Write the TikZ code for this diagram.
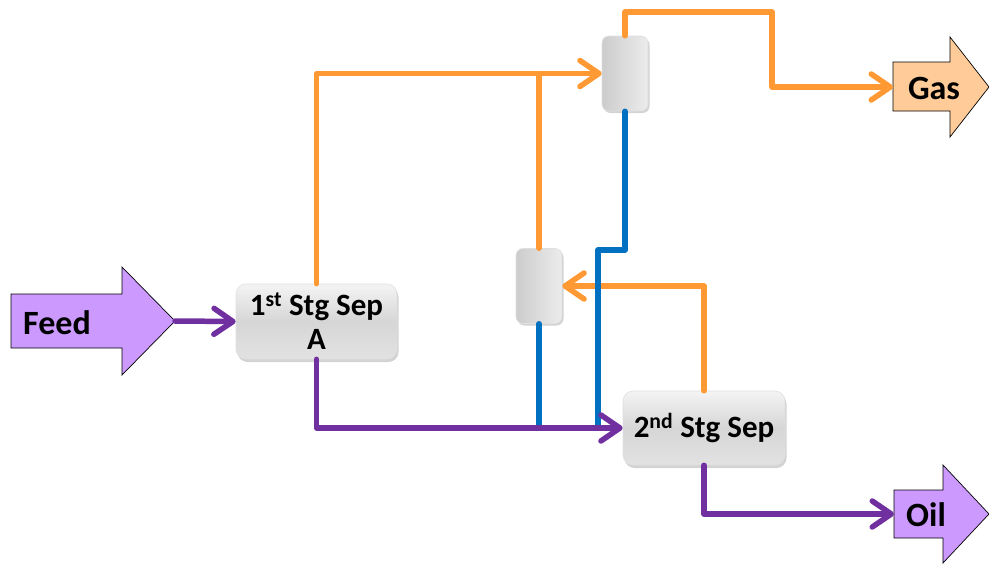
\documentclass[tikz,border=0pt]{standalone}
\usepackage{fontspec}
\setmainfont{Carlito}
\usetikzlibrary{arrows.meta,shadows}
\definecolor{orn}{HTML}{FF9933}
\definecolor{blu}{HTML}{0070C0}
\definecolor{pur}{HTML}{7030A0}
\definecolor{lil}{HTML}{CC99FF}
\definecolor{peach}{HTML}{FFCC99}
\definecolor{boxtop}{HTML}{F4F4F4}
\definecolor{boxmid}{HTML}{D6D6D6}
\definecolor{boxbot}{HTML}{E2E2E2}
\tikzset{
  flowline/.style={line width=5.5pt, line join=round, line cap=round},
  oline/.style={flowline, draw=orn},
  bline/.style={flowline, draw=blu},
  pline/.style={flowline, draw=pur},
  arrowend/.style={-{Straight Barb[length=19pt,width=26pt,round]}},
  sepbox/.style={rounded corners=10pt, draw=gray!25, line width=0.6pt,
    top color=boxtop, bottom color=boxbot, middle color=boxmid,
    drop shadow={opacity=0.35, shadow xshift=1.5pt, shadow yshift=-3pt},
    font=\bfseries\fontsize{31}{34}\selectfont, align=center, inner sep=0pt},
  vesselbox/.style={rounded corners=7pt, draw=gray!25, line width=0.6pt,
    left color=gray!40, right color=gray!15,
    drop shadow={opacity=0.35, shadow xshift=1.5pt, shadow yshift=-2pt},
    minimum width=46pt, minimum height=75pt, inner sep=0pt},
  bigarrow/.style={draw=black, line width=0.7pt, line join=miter},
  bigtext/.style={font=\bfseries\fontsize{34}{40}\selectfont, inner sep=0pt}
}
\begin{document}
\begin{tikzpicture}[x=1pt,y=-1pt]
\useasboundingbox (0,0) rectangle (989,563);
% big arrows
\draw[bigarrow, fill=lil] (11,294) -- (122,294) -- (122,267) -- (175,321) -- (122,375) -- (122,348) -- (11,348) -- cycle;
\draw[bigarrow, fill=peach] (893,62) -- (950,62) -- (950,37) -- (989,87) -- (950,137) -- (950,111) -- (893,111) -- cycle;
\draw[bigarrow, fill=lil] (894,490) -- (943,490) -- (943,465) -- (989,514) -- (943,563) -- (943,538) -- (894,538) -- cycle;
\node[bigtext] (feedlbl) at (57,323) {Feed};
\node[bigtext] (gaslbl) at (934,88) {Gas};
\node[bigtext] (oillbl) at (926,515) {Oil};
\coordinate (feedtip) at (175,321);
\coordinate (gastail) at (893,87);
\coordinate (oiltail) at (894,514);
\coordinate (g1) at (772,12);
\coordinate (bstep) at (598,250);
% units
\node[sepbox, minimum width=161pt, minimum height=75pt] (sep1) at (316.5,321.5) {1\textsuperscript{st} Stg Sep\\A};
\node[sepbox, minimum width=162pt, minimum height=74pt] (sep2) at (704,428) {2\textsuperscript{nd} Stg Sep};
\node[vesselbox] (v1) at (625,73.5) {};
\node[vesselbox] (v2) at (539,286) {};
% orange lines
\draw[oline, arrowend] (sep1.north) |- (v1.west);
\draw[oline] (v2.north) -- (v2.north |- v1.west);
\draw[oline, arrowend] (v1.north) |- (g1) |- (gastail);
\draw[oline, arrowend] (sep2.north) |- (v2.east);
% blue lines
\draw[bline] (v1.south) |- (bstep) -- (bstep |- sep2.west);
\draw[bline] (v2.south) -- (v2.south |- sep2.west);
% purple lines
\draw[pline, arrowend] (feedtip) -- (sep1.west);
\draw[pline, arrowend] (sep1.south) |- (sep2.west);
\draw[pline, arrowend] (sep2.south) |- (oiltail);
\end{tikzpicture}
\end{document}
